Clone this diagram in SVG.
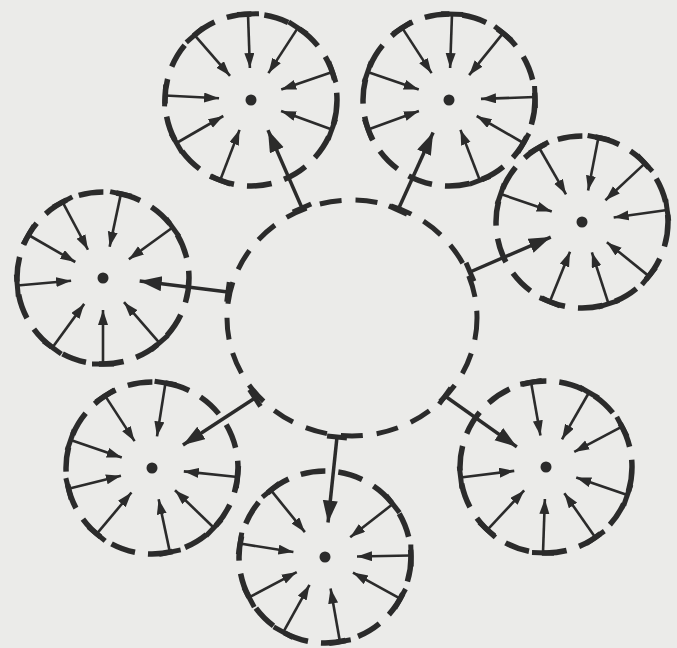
<svg xmlns="http://www.w3.org/2000/svg" width="677" height="648" viewBox="0 0 677 648">
<style>
.ring{fill:none;stroke:#2b2b2b;stroke-width:5.5;stroke-dasharray:25 13}
.hub{fill:none;stroke:#2b2b2b;stroke-width:5;stroke-dasharray:22 14}
.dot{fill:#2b2b2b}
.sa{stroke:#2b2b2b;stroke-width:2.6;marker-end:url(#sh)}
.ba{stroke:#2b2b2b;stroke-width:3.5;marker-end:url(#bh)}
.bar{stroke:#2b2b2b;stroke-width:5}
</style>
<defs>
<marker id="sh" markerUnits="userSpaceOnUse" markerWidth="16" markerHeight="11" refX="15" refY="5" orient="auto"><path d="M0,0 L15,5 L0,10 z" fill="#2b2b2b"/></marker>
<marker id="bh" markerUnits="userSpaceOnUse" markerWidth="23" markerHeight="16" refX="22" refY="7.5" orient="auto"><path d="M0,0 L22,7.5 L0,15 z" fill="#2b2b2b"/></marker>
<g id="sp"><line class="sa" x1="86" y1="0" x2="32" y2="0"/><line class="bar" x1="86" y1="-11" x2="86" y2="11"/></g>
</defs>
<rect width="677" height="648" fill="#ebebe9"/>
<g id="hub"><ellipse class="hub" cx="352" cy="318" rx="125" ry="118"/></g>
<g id="n1" transform="translate(251,100)"><circle class="ring" r="86"/><circle class="dot" r="5.5"/>
<use href="#sp" transform="rotate(-92)"/><use href="#sp" transform="rotate(-131)"/><use href="#sp" transform="rotate(-57)"/><use href="#sp" transform="rotate(-19)"/><use href="#sp" transform="rotate(183)"/><use href="#sp" transform="rotate(20)"/><use href="#sp" transform="rotate(150)"/><use href="#sp" transform="rotate(111)"/></g>
<g id="n2" transform="translate(449,100)"><circle class="ring" r="86"/><circle class="dot" r="5.5"/>
<use href="#sp" transform="rotate(-88)"/><use href="#sp" transform="rotate(-123)"/><use href="#sp" transform="rotate(-51)"/><use href="#sp" transform="rotate(-161)"/><use href="#sp" transform="rotate(-2)"/><use href="#sp" transform="rotate(160)"/><use href="#sp" transform="rotate(30)"/><use href="#sp" transform="rotate(69)"/></g>
<g id="n3" transform="translate(582,222)"><circle class="ring" r="86"/><circle class="dot" r="5.5"/>
<use href="#sp" transform="rotate(-79)"/><use href="#sp" transform="rotate(-120)"/><use href="#sp" transform="rotate(-43)"/><use href="#sp" transform="rotate(-161)"/><use href="#sp" transform="rotate(-8)"/><use href="#sp" transform="rotate(39)"/><use href="#sp" transform="rotate(72)"/><use href="#sp" transform="rotate(112)"/></g>
<g id="n4" transform="translate(103,278)"><circle class="ring" r="86"/><circle class="dot" r="5.5"/>
<use href="#sp" transform="rotate(-118)"/><use href="#sp" transform="rotate(-78)"/><use href="#sp" transform="rotate(-150)"/><use href="#sp" transform="rotate(-36)"/><use href="#sp" transform="rotate(175)"/><use href="#sp" transform="rotate(126)"/><use href="#sp" transform="rotate(90)"/><use href="#sp" transform="rotate(49)"/></g>
<g id="n5" transform="translate(152,468)"><circle class="ring" r="86"/><circle class="dot" r="5.5"/>
<use href="#sp" transform="rotate(-123)"/><use href="#sp" transform="rotate(-81)"/><use href="#sp" transform="rotate(-161)"/><use href="#sp" transform="rotate(6)"/><use href="#sp" transform="rotate(166)"/><use href="#sp" transform="rotate(130)"/><use href="#sp" transform="rotate(78)"/><use href="#sp" transform="rotate(44)"/></g>
<g id="n6" transform="translate(325,557)"><circle class="ring" r="86"/><circle class="dot" r="5.5"/>
<use href="#sp" transform="rotate(-129)"/><use href="#sp" transform="rotate(-38)"/><use href="#sp" transform="rotate(-171)"/><use href="#sp" transform="rotate(-1)"/><use href="#sp" transform="rotate(152)"/><use href="#sp" transform="rotate(119)"/><use href="#sp" transform="rotate(80)"/><use href="#sp" transform="rotate(29)"/></g>
<g id="n7" transform="translate(546,467)"><circle class="ring" r="86"/><circle class="dot" r="5.5"/>
<use href="#sp" transform="rotate(-100)"/><use href="#sp" transform="rotate(-60)"/><use href="#sp" transform="rotate(-28)"/><use href="#sp" transform="rotate(173)"/><use href="#sp" transform="rotate(19)"/><use href="#sp" transform="rotate(133)"/><use href="#sp" transform="rotate(92)"/><use href="#sp" transform="rotate(55)"/></g>
<g id="connectors">
<g transform="translate(302,208) rotate(-113.6)"><line class="ba" x1="0" y1="0" x2="85" y2="0"/><line class="bar" x1="0" y1="-10" x2="0" y2="10"/></g>
<g transform="translate(398,210) rotate(-65.6)"><line class="ba" x1="0" y1="0" x2="85" y2="0"/><line class="bar" x1="0" y1="-10" x2="0" y2="10"/></g>
<g transform="translate(470,272) rotate(-23.4)"><line class="ba" x1="0" y1="0" x2="88" y2="0"/><line class="bar" x1="0" y1="-10" x2="0" y2="10"/></g>
<g transform="translate(228,292) rotate(187.1)"><line class="ba" x1="0" y1="0" x2="89" y2="0"/><line class="bar" x1="0" y1="-10" x2="0" y2="10"/></g>
<g transform="translate(255,398) rotate(146.9)"><line class="ba" x1="0" y1="0" x2="86" y2="0"/><line class="bar" x1="0" y1="-10" x2="0" y2="10"/></g>
<g transform="translate(337,437) rotate(96)"><line class="ba" x1="0" y1="0" x2="86" y2="0"/><line class="bar" x1="0" y1="-10" x2="0" y2="10"/></g>
<g transform="translate(445,396) rotate(35.3)"><line class="ba" x1="0" y1="0" x2="88" y2="0"/><line class="bar" x1="0" y1="-10" x2="0" y2="10"/></g>
</g>
</svg>
